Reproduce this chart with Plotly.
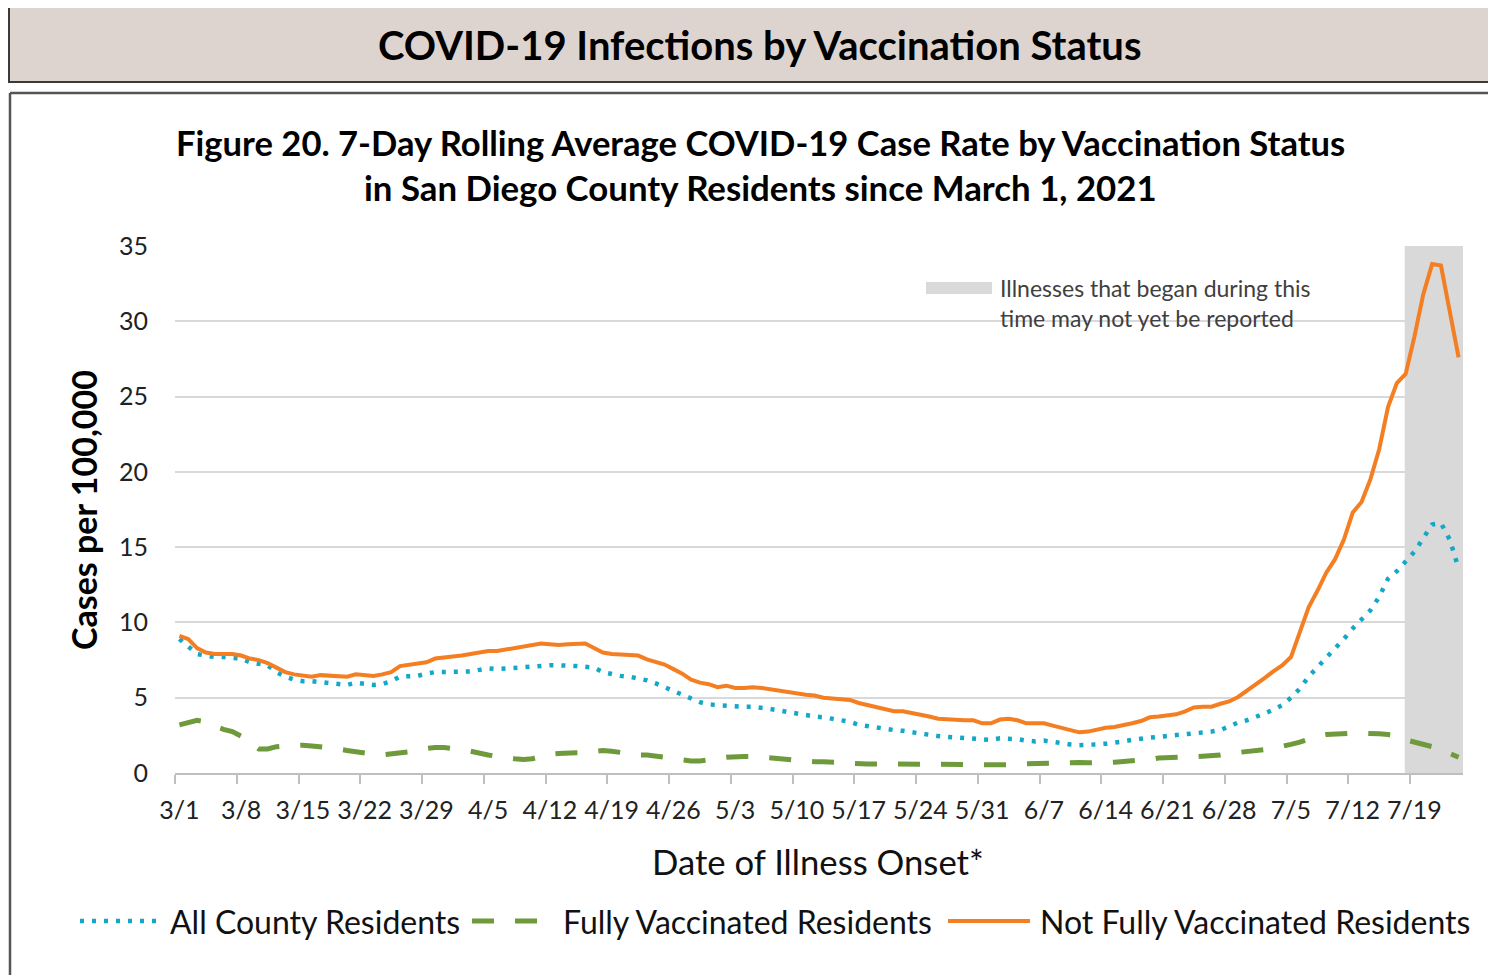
import plotly.graph_objects as go
import pandas as pd

# ---------------- data ----------------
dates = pd.date_range("2021-03-01", "2021-07-24", freq="D")
week_ticks = pd.date_range("2021-03-01", "2021-07-19", freq="7D")
tick_labels = [f"{d.month}/{d.day}" for d in week_ticks]

not_fully_vaccinated = [
    9.1, 8.9, 8.3, 8.0, 7.9, 7.9, 7.9,
    7.8, 7.6, 7.5, 7.3, 7.0, 6.7, 6.55,
    6.45, 6.4, 6.5, 6.45, 6.45, 6.4, 6.55,
    6.5, 6.45, 6.55, 6.7, 7.1, 7.2, 7.3,
    7.35, 7.6, 7.65, 7.75, 7.8, 7.9, 8.0,
    8.1, 8.1, 8.2, 8.3, 8.4, 8.55, 8.6,
    8.55, 8.5, 8.55, 8.6, 8.6, 8.3, 8.0,
    7.9, 7.85, 7.8, 7.8, 7.55, 7.4, 7.2,
    6.9, 6.6, 6.2, 6.0, 5.9, 5.7, 5.8,
    5.65, 5.65, 5.7, 5.65, 5.55, 5.5, 5.35,
    5.25, 5.2, 5.15, 5.0, 4.95, 4.9, 4.85,
    4.65, 4.5, 4.35, 4.2, 4.1, 4.1, 4.0,
    3.85, 3.75, 3.6, 3.55, 3.55, 3.5, 3.5,
    3.3, 3.3, 3.55, 3.6, 3.5, 3.3, 3.3,
    3.3, 3.15, 3.0, 2.85, 2.7, 2.75, 2.9,
    3.0, 3.05, 3.15, 3.3, 3.45, 3.7, 3.75,
    3.8, 3.9, 4.1, 4.35, 4.4, 4.4, 4.6,
    4.75, 5.05, 5.45, 5.85, 6.3, 6.75, 7.15,
    7.7, 9.4, 11.0, 12.1, 13.3, 14.2, 15.5,
    17.3, 18.0, 19.5, 21.5, 24.3, 25.9, 26.5,
    29.0, 31.8, 33.8, 33.7, 30.6, 27.6,
]

all_county = [
    8.9, 8.4, 7.9, 7.8, 7.7, 7.7, 7.65,
    7.6, 7.35, 7.25, 7.15, 6.7, 6.4, 6.2,
    6.1, 6.1, 6.05, 6.0, 5.95, 5.85, 6.0,
    5.95, 5.85, 5.9, 6.1, 6.4, 6.45, 6.45,
    6.6, 6.7, 6.7, 6.7, 6.75, 6.75, 6.85,
    6.95, 6.9, 6.95, 7.0, 7.0, 7.1, 7.15,
    7.15, 7.15, 7.15, 7.1, 7.05, 7.0, 6.7,
    6.55, 6.45, 6.4, 6.3, 6.15, 5.95, 5.7,
    5.45, 5.2, 4.95, 4.7, 4.55, 4.5, 4.5,
    4.45, 4.4, 4.4, 4.35, 4.25, 4.15, 4.05,
    3.9, 3.8, 3.75, 3.7, 3.6, 3.5, 3.4,
    3.2, 3.1, 3.05, 2.95, 2.85, 2.8, 2.7,
    2.6, 2.5, 2.45, 2.4, 2.35, 2.3, 2.25,
    2.2, 2.2, 2.3, 2.3, 2.25, 2.15, 2.1,
    2.15, 2.05, 2.0, 1.9, 1.85, 1.85, 1.9,
    1.95, 2.0, 2.1, 2.2, 2.3, 2.35, 2.4,
    2.45, 2.5, 2.55, 2.65, 2.7, 2.75, 2.85,
    3.1, 3.35, 3.5, 3.7, 3.95, 4.2, 4.5,
    5.0, 5.6, 6.4, 7.0, 7.7, 8.3, 8.9,
    9.6, 10.2, 10.8, 11.7, 12.9, 13.4, 14.0,
    14.7, 15.6, 16.5, 16.6, 15.5, 13.6,
]

fully_vaccinated = [
    3.2, 3.35, 3.5, 3.4, 3.1, 2.9, 2.75,
    2.45, 2.0, 1.6, 1.6, 1.75, 1.8, 1.85,
    1.85, 1.8, 1.75, 1.7, 1.6, 1.5, 1.4,
    1.35, 1.25, 1.2, 1.25, 1.3, 1.4, 1.55,
    1.65, 1.7, 1.7, 1.65, 1.55, 1.45, 1.3,
    1.2, 1.1, 1.0, 0.95, 0.9, 0.95, 1.1,
    1.25, 1.3, 1.35, 1.35, 1.35, 1.45, 1.5,
    1.45, 1.35, 1.25, 1.2, 1.2, 1.15, 1.05,
    0.95, 0.85, 0.8, 0.8, 0.85, 0.95, 1.05,
    1.1, 1.1, 1.1, 1.05, 1.0, 0.9, 0.85,
    0.8, 0.75, 0.75, 0.75, 0.75, 0.7, 0.65,
    0.6, 0.6, 0.6, 0.6, 0.65, 0.65, 0.65,
    0.65, 0.6, 0.6, 0.57, 0.57, 0.57, 0.55,
    0.53, 0.53, 0.53, 0.55, 0.6, 0.62, 0.65,
    0.67, 0.7, 0.7, 0.7, 0.69, 0.68, 0.66,
    0.68, 0.72, 0.76, 0.78, 0.83, 0.9, 1.0,
    1.05, 1.07, 1.07, 1.08, 1.1, 1.1, 1.2,
    1.3, 1.35, 1.4, 1.45, 1.55, 1.65, 1.75,
    1.9, 2.05, 2.25, 2.45, 2.55, 2.6, 2.65,
    2.65, 2.65, 2.65, 2.6, 2.55, 2.45, 2.2,
    2.05, 1.95, 1.75, 1.55, 1.3, 1.05,
]

y_ticks = [0, 5, 10, 15, 20, 25, 30, 35]

# ---------------- layout geometry ----------------
# The page body adds an 8px offset, so the figure is 8px smaller and all
# helper coordinates below are expressed in screen pixels.
OFF = 8
W, H = 1496 - OFF, 975 - OFF
L, R, T, B = 175 - OFF, 33, 246 - OFF, 202
PW, PH = W - L - R, H - T - B


def px_x(px):
    return (px - OFF - L) / PW


def px_y(py):
    return (H - B - (py - OFF)) / PH


FONT = "Lato"
ORANGE = "#F47E22"
BLUE = "#14A8C8"
GREEN = "#6E9A3C"
BLUE_DASH = "4px,8px"
GREEN_DASH = "22px,21px"

series = [
    ("All County Residents", all_county, BLUE, 4.5, BLUE_DASH),
    ("Fully Vaccinated Residents", fully_vaccinated, GREEN, 5, GREEN_DASH),
    ("Not Fully Vaccinated Residents", not_fully_vaccinated, ORANGE, 4, "solid"),
]

fig = go.Figure()
for name, vals, color, width, dash in series:
    fig.add_trace(go.Scatter(
        x=dates, y=vals, mode="lines", name=name,
        line=dict(color=color, width=width, dash=dash),
    ))

shapes = []
# header box
shapes.append(dict(type="rect", xref="paper", yref="paper",
                   x0=px_x(9), x1=px_x(1510), y0=px_y(82), y1=px_y(6),
                   fillcolor="#DDD4CF", line=dict(color="#3A3A3A", width=2), layer="above"))
# chart frame (top & left border)
shapes.append(dict(type="line", xref="paper", yref="paper",
                   x0=px_x(10), x1=px_x(1510), y0=px_y(93), y1=px_y(93),
                   line=dict(color="#555555", width=2.5), layer="above"))
shapes.append(dict(type="line", xref="paper", yref="paper",
                   x0=px_x(10), x1=px_x(10), y0=px_y(93), y1=px_y(990),
                   line=dict(color="#555555", width=2.5), layer="above"))
# grey "not yet reported" band
shapes.append(dict(type="rect", xref="x", yref="y",
                   x0="2021-07-17 21:30", x1="2021-07-24 12:00", y0=0, y1=35,
                   fillcolor="#D9D9D9", line=dict(width=0), layer="between"))
# white box behind note
shapes.append(dict(type="rect", xref="paper", yref="paper",
                   x0=px_x(898), x1=px_x(1352), y0=px_y(336), y1=px_y(266),
                   fillcolor="white", line=dict(width=0), layer="between"))
# note swatch
shapes.append(dict(type="rect", xref="paper", yref="paper",
                   x0=px_x(926), x1=px_x(992), y0=px_y(294), y1=px_y(282),
                   fillcolor="#D9D9D9", line=dict(width=0), layer="above"))

annotations = [
    dict(text="<b>COVID-19 Infections by Vaccination Status</b>", xref="paper", yref="paper",
         x=px_x(760), y=px_y(45), showarrow=False, xanchor="center", yanchor="middle",
         font=dict(family=FONT, size=40, color="#000000")),
    dict(text="<b>Figure 20. 7-Day Rolling Average COVID-19 Case Rate by Vaccination Status</b>",
         xref="paper", yref="paper", x=px_x(760), y=px_y(143), showarrow=False,
         xanchor="center", yanchor="middle", font=dict(family=FONT, size=34.6, color="#000000")),
    dict(text="<b>in San Diego County Residents since March 1, 2021</b>",
         xref="paper", yref="paper", x=px_x(760), y=px_y(188), showarrow=False,
         xanchor="center", yanchor="middle", font=dict(family=FONT, size=34.8, color="#000000")),
    dict(text="<b>Cases per 100,000</b>", xref="paper", yref="paper",
         x=px_x(83), y=px_y(510), showarrow=False, textangle=-90,
         xanchor="center", yanchor="middle", font=dict(family=FONT, size=34, color="#000000")),
    dict(text="Date of Illness Onset*", xref="paper", yref="paper",
         x=px_x(818), y=px_y(861), showarrow=False,
         xanchor="center", yanchor="middle", font=dict(family=FONT, size=34.7, color="#111111")),
    dict(text="Illnesses that began during this<br>time may not yet be reported",
         xref="paper", yref="paper", x=px_x(998), y=px_y(303), showarrow=False,
         xanchor="left", yanchor="middle", align="left",
         font=dict(family=FONT, size=23, color="#404040")),
]

# custom one-row legend (sample line + label per series)
legend_slots = [(80, 160, 168), (472, 540, 561), (948, 1030, 1038)]
for (name, _vals, color, width, dash), (lx0, lx1, tx) in zip(series, legend_slots):
    shapes.append(dict(type="line", xref="paper", yref="paper",
                       x0=px_x(lx0), x1=px_x(lx1), y0=px_y(921), y1=px_y(921),
                       line=dict(color=color, width=width, dash=dash), layer="above"))
    annotations.append(dict(text=name, xref="paper", yref="paper", x=px_x(tx), y=px_y(921),
                            showarrow=False, xanchor="left", yanchor="middle",
                            font=dict(family=FONT, size=32, color="#111111")))

minor_ticks = [d - pd.Timedelta(hours=12) for d in week_ticks]

fig.update_layout(
    width=W, height=H,
    margin=dict(l=L, r=R, t=T, b=B, autoexpand=False),
    paper_bgcolor="white", plot_bgcolor="white",
    font=dict(family=FONT, color="#222222"),
    shapes=shapes, annotations=annotations,
    showlegend=False,
    xaxis=dict(
        range=["2021-02-28 12:00", "2021-07-24 12:00"],
        tickvals=list(week_ticks), ticktext=tick_labels, ticks="",
        tickfont=dict(family=FONT, size=25, color="#222222"),
        showgrid=False, showline=True, linecolor="#BFBFBF", linewidth=1.5,
        zeroline=False,
        minor=dict(tickvals=minor_ticks, ticks="outside", ticklen=9, tickcolor="#BFBFBF",
                   tickwidth=1.5, showgrid=False),
        ticklabelstandoff=14,
    ),
    yaxis=dict(
        range=[0, 35], tickvals=y_ticks,
        tickfont=dict(family=FONT, size=25, color="#222222"),
        showgrid=True, gridcolor="#D9D9D9", gridwidth=1.5,
        zeroline=False, showline=False, ticks="", ticklabelstandoff=26,
    ),
)

fig.write_html("out.html")
